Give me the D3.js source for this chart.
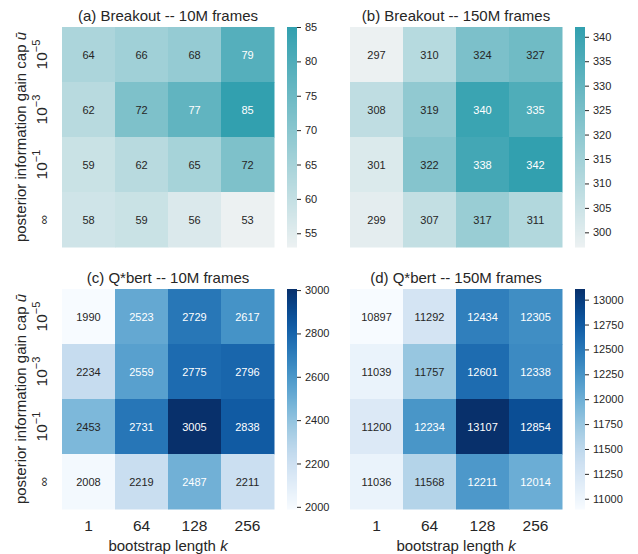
<!DOCTYPE html>
<html>
<head>
<meta charset="utf-8">
<script src="https://cdn.jsdelivr.net/npm/d3@7"></script>
<style>
  body { margin: 0; background: #fff; }
  text { font-family: "Liberation Sans", Arial, sans-serif; }
</style>
</head>
<body>
<svg id="chart" width="638" height="554"></svg>
<script>
// data
var colLabels = ["1", "64", "128", "256"];
var rowExps = ["5", "3", "1", null];   // null -> infinity
var breakout10M  = [[64, 66, 68, 79], [62, 72, 77, 85], [59, 62, 65, 72], [58, 59, 56, 53]];
var breakout150M = [[297, 310, 324, 327], [308, 319, 340, 335], [301, 322, 338, 342], [299, 307, 317, 311]];
var qbert10M  = [[1990, 2523, 2729, 2617], [2234, 2559, 2775, 2796], [2453, 2731, 3005, 2838], [2008, 2219, 2487, 2211]];
var qbert150M = [[10897, 11292, 12434, 12305], [11039, 11757, 12601, 12338], [11200, 12234, 13107, 12854], [11036, 11568, 12211, 12014]];
var ticksA = [55, 60, 65, 70, 75, 80, 85];
var ticksB = [300, 305, 310, 315, 320, 325, 330, 335, 340];
var ticksC = [2000, 2200, 2400, 2600, 2800, 3000];
var ticksD = [11000, 11250, 11500, 11750, 12000, 12250, 12500, 12750, 13000];

var tealInterp = d3.interpolateRgb("#ecf1f2", "#32a0af");

var panels = [
    {title: "(a) Breakout -- 10M frames",  data: breakout10M,  ticks: ticksA, interp: tealInterp, x: 62,  y: 27,  xlab: false, ylab: true},
    {title: "(b) Breakout -- 150M frames", data: breakout150M, ticks: ticksB, interp: tealInterp, x: 350, y: 27,  xlab: false, ylab: false},
    {title: "(c) Q*bert -- 10M frames",    data: qbert10M,     ticks: ticksC, interp: d3.interpolateBlues, x: 62,  y: 289, xlab: true, ylab: true},
    {title: "(d) Q*bert -- 150M frames",   data: qbert150M,    ticks: ticksD, interp: d3.interpolateBlues, x: 350, y: 289, xlab: true, ylab: false}
];

var W = 212, H = 220, cbGap = 13, cbW = 10;
var svg = d3.select("#chart");

function lum(c){
    var rgb = d3.rgb(c);
    var f = function(v){ v = v/255; return v <= 0.03928 ? v/12.92 : Math.pow((v+0.055)/1.055, 2.4); };
    return 0.2126*f(rgb.r) + 0.7152*f(rgb.g) + 0.0722*f(rgb.b);
}

panels.forEach(function(p){
    var g = svg.append("g").attr("transform", "translate(" + p.x + "," + p.y + ")");
    var flat = d3.merge(p.data);
    var ext = d3.extent(flat);
    var color = d3.scaleSequential(p.interp).domain(ext);

    var xs = d3.scaleBand().domain(d3.range(4)).range([0, W]);
    var ys = d3.scaleBand().domain(d3.range(4)).range([0, H]);

    var cells = [];
    p.data.forEach(function(row, r){
        row.forEach(function(v, c){ cells.push({r: r, c: c, v: v}); });
    });

    g.selectAll("rect.cell").data(cells).enter().append("rect")
        .attr("class", "cell")
        .attr("x", function(d){ return xs(d.c); })
        .attr("y", function(d){ return ys(d.r); })
        .attr("width", xs.bandwidth() + 0.5)
        .attr("height", ys.bandwidth() + 0.5)
        .attr("fill", function(d){ return color(d.v); });

    g.selectAll("text.ann").data(cells).enter().append("text")
        .attr("class", "ann")
        .attr("x", function(d){ return xs(d.c) + xs.bandwidth()/2; })
        .attr("y", function(d){ return ys(d.r) + ys.bandwidth()/2 + 4; })
        .attr("text-anchor", "middle")
        .attr("font-size", 11)
        .attr("fill", function(d){ return lum(color(d.v)) > 0.408 ? "#262626" : "#ffffff"; })
        .text(function(d){ return d.v; });

    // title
    g.append("text")
        .attr("x", W/2).attr("y", -6)
        .attr("text-anchor", "middle")
        .attr("font-size", 15)
        .attr("fill", "#262626")
        .text(p.title);

    // colorbar
    var cb = g.append("g").attr("transform", "translate(" + (W + cbGap) + ",0)");
    var cs = d3.scaleLinear().domain(ext).range([H, 0]);
    var steps = d3.range(0, H, 1);
    cb.selectAll("rect").data(steps).enter().append("rect")
        .attr("x", 0).attr("y", function(d){ return d; })
        .attr("width", cbW).attr("height", 1.5)
        .attr("fill", function(d){ return color(cs.invert(d + 0.5)); });
    var ax = cb.append("g").attr("transform", "translate(" + cbW + ",0)")
        .call(d3.axisRight(cs).tickValues(p.ticks).tickFormat(d3.format("d")).tickSize(4).tickPadding(4));
    ax.select(".domain").remove();
    ax.selectAll(".tick line").attr("stroke", "#262626").attr("stroke-width", 1);
    ax.selectAll(".tick text").attr("font-size", 11).attr("fill", "#262626")
        .attr("font-family", "Liberation Sans, Arial, sans-serif");

    // x tick labels
    if(p.xlab){
        g.selectAll("text.xt").data(colLabels).enter().append("text")
            .attr("class", "xt")
            .attr("x", function(d, i){ return xs(i) + xs.bandwidth()/2; })
            .attr("y", H + 22)
            .attr("text-anchor", "middle")
            .attr("font-size", 15.5)
            .attr("fill", "#262626")
            .text(function(d){ return d; });
        var xl = g.append("text")
            .attr("x", W/2).attr("y", H + 42)
            .attr("text-anchor", "middle")
            .attr("font-size", 15)
            .attr("fill", "#262626");
        xl.append("tspan").text("bootstrap length ");
        xl.append("tspan").attr("font-style", "italic").text("k");
    }

    // y tick labels
    if(p.ylab){
        rowExps.forEach(function(e, i){
            var cy = ys(i) + ys.bandwidth()/2;
            var t = g.append("text")
                .attr("transform", "translate(-15," + cy + ") rotate(-90)")
                .attr("text-anchor", "middle")
                .attr("fill", "#262626");
            if(e === null){
                t.attr("font-size", 13).attr("dy", 1).text("\u221E");
            }else{
                t.attr("font-size", 15.5);
                t.append("tspan").text("10");
                t.append("tspan").attr("font-size", 11).attr("dy", -7).text("\u2212" + e);
            }
        });
        var yl = g.append("text")
            .attr("transform", "translate(-36," + (H/2) + ") rotate(-90)")
            .attr("text-anchor", "middle")
            .attr("font-size", 15)
            .attr("fill", "#262626");
        yl.append("tspan").text("posterior information gain cap ");
        yl.append("tspan").attr("font-style", "italic").text("\u016B");
    }
});
</script>
</body>
</html>
